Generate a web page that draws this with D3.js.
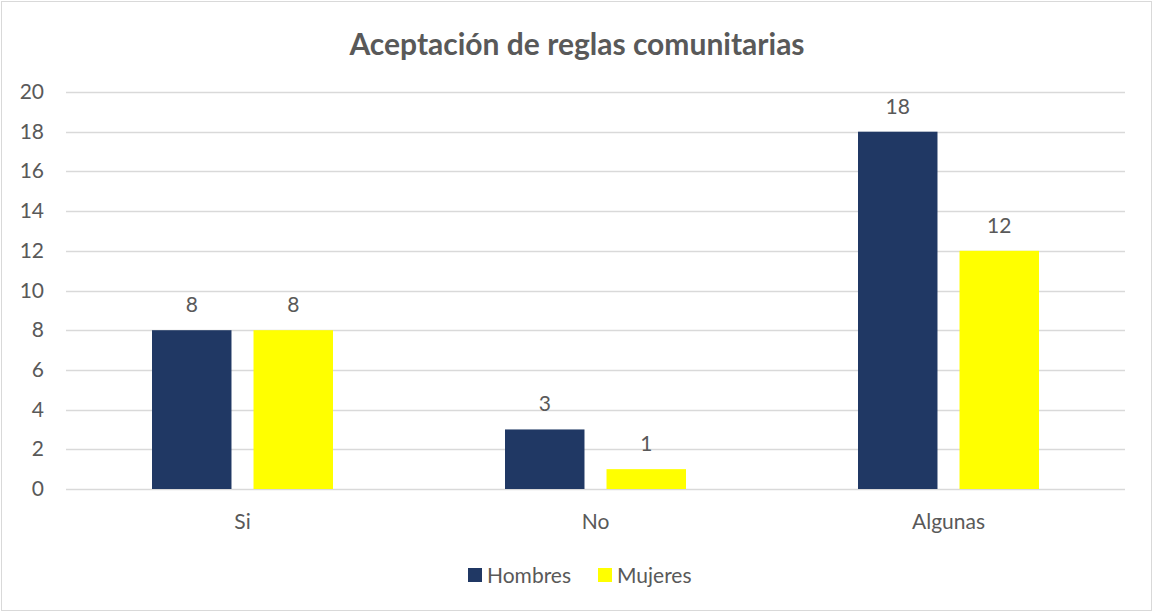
<!DOCTYPE html>
<html>
<head>
<meta charset="utf-8">
<script src="https://cdn.jsdelivr.net/npm/d3@7"></script>
<style>
  body { margin: 0; background: #fff; }
  text { font-family: Lato, "Open Sans", sans-serif; fill: #595959; }
</style>
</head>
<body>
<div class="chart"></div>
<script>
var categories = ["Si", "No", "Algunas"];
var series = ["Hombres", "Mujeres"];
var hombres = [8, 3, 18];
var mujeres = [8, 1, 12];
var yTicks = [0, 2, 4, 6, 8, 10, 12, 14, 16, 18, 20];
var colors = ["#203864", "#ffff00"];
var title = "Aceptación de reglas comunitarias";

var width = 1154, height = 613;
var plotLeft = 66, plotRight = 1125, plotTop = 92, plotBottom = 489;

var svg = d3.select('.chart')
  .append('svg')
  .attr('width', width)
  .attr('height', height);

svg.append('rect')
  .attr('x', 1.5).attr('y', 1.5)
  .attr('width', width - 4).attr('height', height - 4)
  .style('fill', '#fff')
  .style('stroke', '#d9d9d9');

var y = d3.scaleLinear().domain([0, 20]).range([plotBottom, plotTop]);
var x0 = d3.scaleBand().domain(categories).range([plotLeft, plotRight]);
var x1 = d3.scaleBand().domain(series).range([-90.5, 90.5]).paddingInner(0.217);

svg.append('text')
  .attr('x', width / 2)
  .attr('y', 55)
  .attr('text-anchor', 'middle')
  .style('font-size', '30px')
  .style('font-weight', 'bold')
  .text(title);

// grid
svg.selectAll('line.grid')
  .data(yTicks)
  .enter()
  .append('line')
  .attr('class', 'grid')
  .attr('x1', plotLeft).attr('x2', plotRight)
  .attr('y1', function (d) { return Math.round(y(d)) + 0.5; })
  .attr('y2', function (d) { return Math.round(y(d)) + 0.5; })
  .style('stroke', '#d9d9d9')
  .style('stroke-width', 1.3);

svg.selectAll('text.ytick')
  .data(yTicks)
  .enter()
  .append('text')
  .attr('class', 'ytick')
  .attr('x', 44)
  .attr('y', function (d) { return y(d) + 7; })
  .attr('text-anchor', 'end')
  .style('font-size', '21px')
  .text(function (d) { return d; });

var rows = categories.map(function (c, i) {
  return { cat: c, vals: [hombres[i], mujeres[i]] };
});

var groups = svg.selectAll('g.cat')
  .data(rows)
  .enter()
  .append('g')
  .attr('class', 'cat')
  .attr('transform', function (d) { return 'translate(' + (x0(d.cat) + x0.bandwidth() / 2) + ',0)'; });

groups.selectAll('rect')
  .data(function (d) { return d.vals.map(function (v, j) { return { s: series[j], v: v, j: j }; }); })
  .enter()
  .append('rect')
  .attr('x', function (d) { return x1(d.s); })
  .attr('width', x1.bandwidth())
  .attr('y', function (d) { return y(d.v); })
  .attr('height', function (d) { return y(0) - y(d.v); })
  .style('fill', function (d) { return colors[d.j]; });

groups.selectAll('text.val')
  .data(function (d) { return d.vals.map(function (v, j) { return { s: series[j], v: v }; }); })
  .enter()
  .append('text')
  .attr('class', 'val')
  .attr('x', function (d) { return x1(d.s) + x1.bandwidth() / 2; })
  .attr('y', function (d) { return y(d.v) - 18; })
  .attr('text-anchor', 'middle')
  .style('font-size', '21px')
  .text(function (d) { return d.v; });

groups.append('text')
  .attr('x', 0)
  .attr('y', 529)
  .attr('text-anchor', 'middle')
  .style('font-size', '21px')
  .text(function (d) { return d.cat; });

// legend
var legendX = [468, 598];
var legend = svg.selectAll('g.leg')
  .data(series)
  .enter()
  .append('g')
  .attr('class', 'leg')
  .attr('transform', function (d, i) { return 'translate(' + legendX[i] + ',568)'; });

legend.append('rect')
  .attr('width', 14).attr('height', 14)
  .style('fill', function (d, i) { return colors[i]; });

legend.append('text')
  .attr('x', 19)
  .attr('y', 15)
  .style('font-size', '21px')
  .text(function (d) { return d; });
</script>
</body>
</html>
